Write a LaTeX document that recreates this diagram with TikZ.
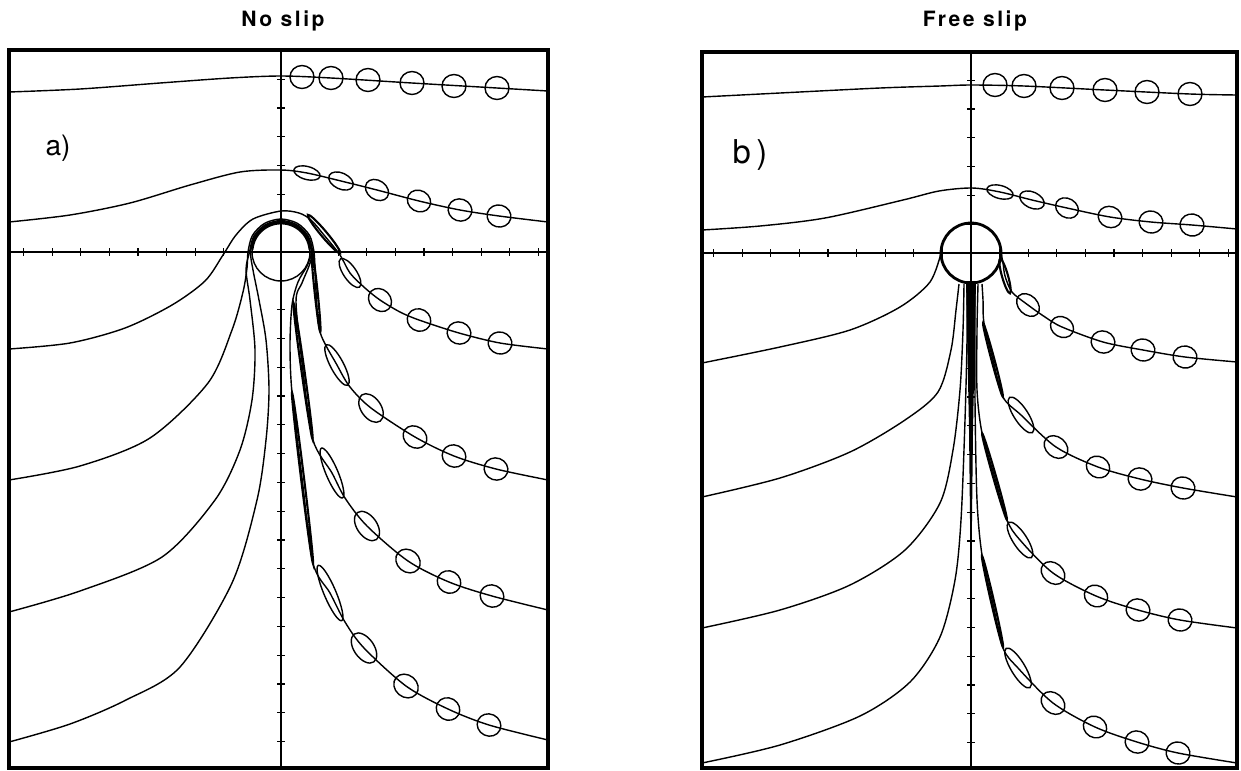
\documentclass[tikz,border=0pt]{standalone}
\usepackage{fontspec}
\setsansfont{TeX Gyre Heros}
\newfontfamily\titlefont[LetterSpace=12]{TeX Gyre Heros}
\usepackage{tikz}

\begin{document}
\begin{tikzpicture}[x=0.03cm, y=-0.03cm,
  frame/.style={line width=2.8pt},
  axisline/.style={line width=1pt},
  stream/.style={line width=1.2pt, line join=round},
  blob/.style={line width=1.2pt},
  streak/.style={line width=1.8pt},
  title/.style={font=\titlefont\bfseries\fontsize{18}{20}\selectfont},
  panellabel/.style={font=\sffamily\fontsize{24}{26}\selectfont}]
  \useasboundingbox (0,0) rectangle (1241,770);

  % Titles and panel labels
  \node[title] (titleNoSlip) at (283,21) {No slip};
  \node[title] (titleFreeSlip) at (975,21) {Free slip};
  \node[panellabel] (labelA) at (58,148) {a)};
  \node[panellabel, font=\sffamily\fontsize{28}{30}\selectfont] (labelB) at (750,155) {b\,)};

  % ---------------- Panel a: no slip ----------------
  \draw[frame] (9,50) rectangle (548,768);
  \draw[axisline] (281,50) -- (281,768);
  \draw[axisline] (9,252) -- (548,252);
  \foreach \k in {-9,-8,-7,-6,-5,-4,-3,-2,-1,1,2,3,4,5,6,7,8,9}
    \draw[axisline] ({281+28.6*\k},248) -- ({281+28.6*\k},256);
  \foreach \k in {-6,-5,-4,-3,-2,-1,1,2,3,4,5,6,7,8,9,10,11,12,13,14,15,16,17}
    \draw[axisline] (277,{252+28.8*\k}) -- (285,{252+28.8*\k});

  % Cylinder
  \draw[stream] (281,252) circle [radius=29];
  \draw[line width=2.4pt] plot[domain=185:355, samples=40] ({281+29*cos(\x)}, {252+29*sin(\x)});

  % Streamlines
  \draw[stream] plot[smooth] coordinates {(9,92) (80,89) (160,83) (230,78) (281,76) (331,78) (412,83) (497,88) (548,91)};
  \draw[stream] plot[smooth] coordinates {(9,222) (70,215) (130,203) (190,185) (240,172) (281,170) (307,173) (341,181) (377,190) (419,201) (460,210) (499,216) (548,222)};
  \draw[stream] plot[smooth] coordinates {(9,349) (70,343) (125,328) (172,305) (205,281) (223,255) (236,235) (253,219) (281,211) (299,213) (311,220) (324,235) (340,255) (350,273) (365,288) (380,300) (400,312) (419,320) (459,333) (500,343) (548,349)};
  \draw[stream] plot[smooth] coordinates {(9,480) (80,466) (150,438) (208,383) (232,330) (243,292) (247,268) (248,252) (252.4,235.5) (264.5,223.4) (281,219) (297.5,223.4) (309.6,235.5) (314,252) (315,270) (316,291) (320,332) (337,365) (350,387) (371,408) (415,437) (454,456) (496,469) (548,480)};
  \draw[stream] plot[smooth] coordinates {(9,612) (80,591) (162,557) (215,500) (240,450) (252,400) (255,350) (250,300) (246,270) (249.5,252) (253.7,236.3) (265.3,224.7) (281,220.5) (296.8,224.7) (308.3,236.3) (312.5,252) (309,266) (302,283) (296,302) (303,371) (313,440) (332,473) (345,498) (367,526) (408,561) (449,582) (492,596) (548,610)};
  \draw[stream] plot[smooth] coordinates {(9,742) (70,724) (126,700) (180,667) (232,583) (257,500) (266,440) (269,390) (266,340) (259,300) (253,270) (250.5,252) (254.6,236.8) (265.8,225.6) (281,221.5) (296.3,225.6) (307.4,236.8) (311.5,252) (307,266) (298,282) (292,305) (290,345) (292,393) (302,478) (313,563) (330,593) (345,622) (364,648) (406,686) (448,709) (489,725) (548,740)};

  % Deformed markers
  \foreach \cx/\cy/\ang/\ra/\rb in {302/77/0/12/11.5, 331/78/0/12/11.5, 368/80/0/12/11.5, 412/83/0/12/11.5, 454/86/0/12/11.5, 497/88/0/12/11.5,
      307/173/-15/13.5/6.5, 341/181/-25/13/8, 377/190/-35/12.5/9.5, 419/201/-30/12/10.5, 460/210/-20/12/11, 499/216/-15/12/11,
      350/273/-56/17/6.5, 380/300/-45/12.5/10.5, 419/320/-30/12/11, 459/333/-20/12/11, 500/343/-15/12/11,
      337/365/-62/23/6.5, 371/408/-55/16/10, 415/437/-35/12.5/10.5, 454/456/-25/12/11, 496/469/-20/12/11,
      332/473/-67/27/6, 367/526/-55/16.5/10, 408/561/-40/13/11, 449/582/-30/12/11, 492/596/-25/12/11,
      330/593/-67/30/6, 364/648/-55/17/10, 406/686/-40/13/11, 448/709/-30/12/11, 489/725/-25/12/11}
    \draw[blob, rotate around={\ang:(\cx,\cy)}] (\cx,\cy) ellipse [x radius=\ra, y radius=\rb];
  \foreach \cx/\cy/\ang/\ra/\rb in {324/234/-50/25/3, 316/291/-84/41/1.5, 303/371/-82/69/1.5, 302.5/478/-83/86/1.5}
    \draw[streak, rotate around={\ang:(\cx,\cy)}] (\cx,\cy) ellipse [x radius=\ra, y radius=\rb];

  % ---------------- Panel b: free slip ----------------
  \draw[frame] (702,52) rectangle (1237,768);
  \draw[axisline] (971,52) -- (971,768);
  \draw[axisline] (702,253) -- (1237,253);
  \foreach \k in {-9,-8,-7,-6,-5,-4,-3,-2,-1,1,2,3,4,5,6,7,8,9}
    \draw[axisline] ({971+28.6*\k},249) -- ({971+28.6*\k},257);
  \foreach \k in {-6,-5,-4,-3,-2,-1,1,2,3,4,5,6,7,8,9,10,11,12,13,14,15,16,17}
    \draw[axisline] (967,{253+28.8*\k}) -- (975,{253+28.8*\k});

  % Cylinder and wake
  \draw[line width=2.4pt] (971,253) circle [radius=30];
  \fill (966,281) -- (976,281) -- (973,430) -- (971,610) -- (969,430) -- cycle;

  % Streamlines
  \draw[stream] plot[smooth] coordinates {(702,97) (780,93) (880,88) (940,86) (971,85) (1024,86) (1105,90) (1190,94) (1237,95)};
  \draw[stream] plot[smooth] coordinates {(702,230) (760,226) (825,218) (903,200) (939,191) (972,188) (1000,192) (1032,200) (1067,208) (1110,217) (1151,222) (1192,225) (1237,229)};
  \draw[stream] plot[smooth] coordinates {(702,363) (780,347) (850,330) (900,307) (930,282) (941,253)};
  \draw[stream] plot[smooth] coordinates {(1001,253) (1003,263) (1005,276) (1012,292) (1028,305) (1045,317) (1062,327) (1103,342) (1143,350) (1185,357) (1237,362)};
  \draw[stream] plot[smooth] coordinates {(702,497) (780,478) (850,452) (905,420) (938,392) (951,350) (956,310) (959,284)};
  \draw[stream] plot[smooth] coordinates {(982,284) (983,300) (984,323) (993,360) (1003,397) (1021,415) (1056,447) (1098,467) (1140,479) (1183,488) (1237,497)};
  \draw[stream] plot[smooth] coordinates {(702,628) (780,610) (850,585) (905,550) (940,503) (953,450) (960,390) (963,330) (964,284)};
  \draw[stream] plot[smooth] coordinates {(978,284) (977,330) (977,390) (982,433) (994.5,476.5) (1007,520) (1020,540) (1053,573) (1096,596) (1138,610) (1180,620) (1237,628)};
  \draw[stream] plot[smooth] coordinates {(702,763) (780,745) (860,716) (910,682) (940,637) (955,580) (961,520) (965,420) (967,340) (967,284)};
  \draw[stream] plot[smooth] coordinates {(975,284) (975,400) (977,500) (982,555) (992.5,601.5) (1003,648) (1018,668) (1053,703) (1095,727) (1137,742) (1178,753) (1237,763)};

  % Deformed markers
  \foreach \cx/\cy/\ang/\ra/\rb in {995/85/0/12/11.5, 1024/86/0/12/11.5, 1062/88/0/12/11.5, 1105/90/0/12/11.5, 1147/92/0/12/11.5, 1190/94/0/12/11.5,
      1000/192/-15/13.5/6.5, 1032/200/-25/13/8, 1067/208/-30/12/9.5, 1110/217/-20/12/10.5, 1151/222/-15/12/11, 1192/225/-10/12/11,
      1028/305/-45/13/9.5, 1062/327/-30/12/10, 1103/342/-20/12/11, 1143/350/-15/12/11, 1185/357/-10/12/11,
      1021/415/-57/21/7, 1056/447/-40/13/10, 1098/467/-30/12/10.5, 1140/479/-20/12/11, 1183/488/-15/12/11,
      1020/540/-57/21/7, 1053/573/-40/13/10, 1096/596/-30/12/10.5, 1138/610/-20/12/11, 1180/620/-15/12/11,
      1018/668/-59/23/7, 1053/703/-40/13/10, 1095/727/-30/12/10.5, 1137/742/-20/12/11, 1178/753/-15/12/11}
    \draw[blob, rotate around={\ang:(\cx,\cy)}] (\cx,\cy) ellipse [x radius=\ra, y radius=\rb];
  \foreach \cx/\cy/\ang/\ra/\rb in {1005/276/-74/18/3, 993/360/-75/38/1.5, 994.5/476.5/-74/45/1.5, 992.5/601.5/-77/47/1.5}
    \draw[streak, rotate around={\ang:(\cx,\cy)}] (\cx,\cy) ellipse [x radius=\ra, y radius=\rb];
\end{tikzpicture}
\end{document}
